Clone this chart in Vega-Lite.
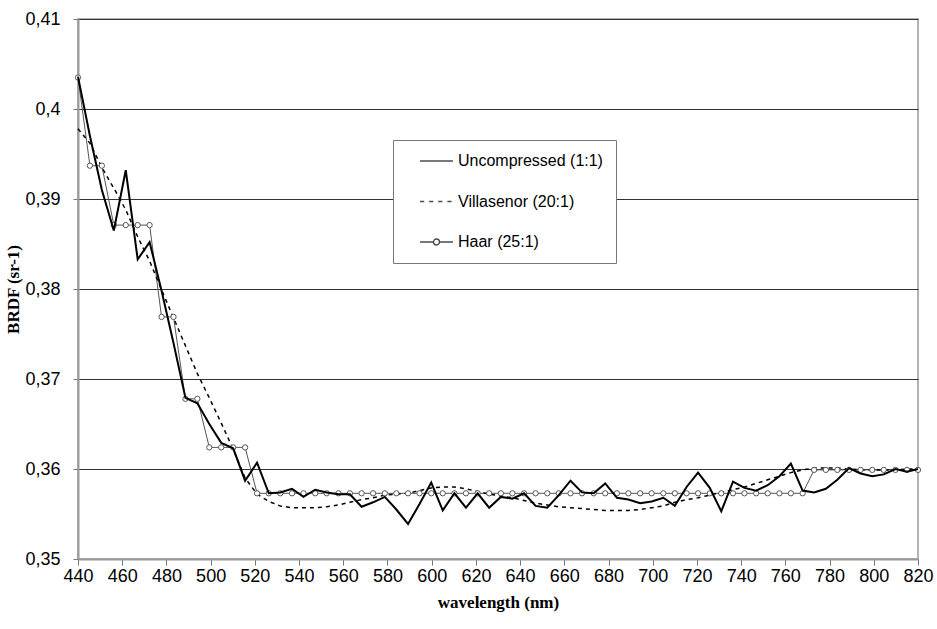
{
  "$schema": "https://vega.github.io/schema/vega-lite/v6.json",
  "autosize": "none",
  "width": 840,
  "height": 540,
  "padding": {"left": 78, "top": 19, "right": 19, "bottom": 70},
  "background": "white",
  "config": {
    "font": "Liberation Sans",
    "view": {"stroke": "#9a9a9a", "strokeWidth": 1.5},
    "axis": {"labelFont": "Liberation Sans", "labelFontSize": 18, "labelColor": "black", "titleFont": "Liberation Serif", "titleFontSize": 17, "titleFontWeight": "bold", "titleColor": "black"}
  },
  "datasets": {
    "spectra": [
      {"w":440,"s":"Uncompressed (1:1)","v":0.4036},{"w":445.4,"s":"Uncompressed (1:1)","v":0.397},{"w":450.8,"s":"Uncompressed (1:1)","v":0.391},{"w":456.2,"s":"Uncompressed (1:1)","v":0.3865},{"w":461.6,"s":"Uncompressed (1:1)","v":0.3932},{"w":467,"s":"Uncompressed (1:1)","v":0.3833},{"w":472.4,"s":"Uncompressed (1:1)","v":0.3852},{"w":477.8,"s":"Uncompressed (1:1)","v":0.3798},{"w":483.2,"s":"Uncompressed (1:1)","v":0.374},{"w":488.6,"s":"Uncompressed (1:1)","v":0.3679},{"w":494,"s":"Uncompressed (1:1)","v":0.3673},{"w":499.4,"s":"Uncompressed (1:1)","v":0.365},{"w":504.8,"s":"Uncompressed (1:1)","v":0.3629},{"w":510.2,"s":"Uncompressed (1:1)","v":0.3623},{"w":515.6,"s":"Uncompressed (1:1)","v":0.3587},{"w":521,"s":"Uncompressed (1:1)","v":0.3607},{"w":526.3,"s":"Uncompressed (1:1)","v":0.3573},{"w":531.5,"s":"Uncompressed (1:1)","v":0.3574},{"w":536.8,"s":"Uncompressed (1:1)","v":0.3578},{"w":542,"s":"Uncompressed (1:1)","v":0.3569},{"w":547.3,"s":"Uncompressed (1:1)","v":0.3577},{"w":552.5,"s":"Uncompressed (1:1)","v":0.3574},{"w":557.8,"s":"Uncompressed (1:1)","v":0.3572},{"w":563,"s":"Uncompressed (1:1)","v":0.3572},{"w":568.3,"s":"Uncompressed (1:1)","v":0.3558},{"w":573.5,"s":"Uncompressed (1:1)","v":0.3563},{"w":578.8,"s":"Uncompressed (1:1)","v":0.3569},{"w":584,"s":"Uncompressed (1:1)","v":0.3555},{"w":589.3,"s":"Uncompressed (1:1)","v":0.3539},{"w":594.5,"s":"Uncompressed (1:1)","v":0.3561},{"w":599.8,"s":"Uncompressed (1:1)","v":0.3585},{"w":605,"s":"Uncompressed (1:1)","v":0.3554},{"w":610.3,"s":"Uncompressed (1:1)","v":0.3573},{"w":615.5,"s":"Uncompressed (1:1)","v":0.3557},{"w":620.8,"s":"Uncompressed (1:1)","v":0.3573},{"w":626,"s":"Uncompressed (1:1)","v":0.3557},{"w":631.3,"s":"Uncompressed (1:1)","v":0.3569},{"w":636.5,"s":"Uncompressed (1:1)","v":0.3567},{"w":641.8,"s":"Uncompressed (1:1)","v":0.3573},{"w":647,"s":"Uncompressed (1:1)","v":0.3559},{"w":652.3,"s":"Uncompressed (1:1)","v":0.3557},{"w":657.5,"s":"Uncompressed (1:1)","v":0.3571},{"w":662.8,"s":"Uncompressed (1:1)","v":0.3587},{"w":668,"s":"Uncompressed (1:1)","v":0.3574},{"w":673.3,"s":"Uncompressed (1:1)","v":0.3573},{"w":678.5,"s":"Uncompressed (1:1)","v":0.3584},{"w":683.8,"s":"Uncompressed (1:1)","v":0.3568},{"w":689,"s":"Uncompressed (1:1)","v":0.3566},{"w":694.3,"s":"Uncompressed (1:1)","v":0.3562},{"w":699.5,"s":"Uncompressed (1:1)","v":0.3564},{"w":704.8,"s":"Uncompressed (1:1)","v":0.3568},{"w":710,"s":"Uncompressed (1:1)","v":0.3559},{"w":715.3,"s":"Uncompressed (1:1)","v":0.358},{"w":720.5,"s":"Uncompressed (1:1)","v":0.3596},{"w":725.8,"s":"Uncompressed (1:1)","v":0.3579},{"w":731,"s":"Uncompressed (1:1)","v":0.3553},{"w":736.3,"s":"Uncompressed (1:1)","v":0.3586},{"w":741.5,"s":"Uncompressed (1:1)","v":0.3579},{"w":746.8,"s":"Uncompressed (1:1)","v":0.3576},{"w":752,"s":"Uncompressed (1:1)","v":0.3582},{"w":757.3,"s":"Uncompressed (1:1)","v":0.3592},{"w":762.5,"s":"Uncompressed (1:1)","v":0.3606},{"w":767.8,"s":"Uncompressed (1:1)","v":0.3576},{"w":773,"s":"Uncompressed (1:1)","v":0.3574},{"w":778.3,"s":"Uncompressed (1:1)","v":0.3578},{"w":783.5,"s":"Uncompressed (1:1)","v":0.3588},{"w":788.8,"s":"Uncompressed (1:1)","v":0.3601},{"w":794,"s":"Uncompressed (1:1)","v":0.3595},{"w":799.3,"s":"Uncompressed (1:1)","v":0.3592},{"w":804.5,"s":"Uncompressed (1:1)","v":0.3594},{"w":809.8,"s":"Uncompressed (1:1)","v":0.36},{"w":815,"s":"Uncompressed (1:1)","v":0.3597},{"w":820,"s":"Uncompressed (1:1)","v":0.36},

      {"w":440,"s":"Villasenor (20:1)","v":0.3978},{"w":445.4,"s":"Villasenor (20:1)","v":0.3962},{"w":450.8,"s":"Villasenor (20:1)","v":0.3935},{"w":456.2,"s":"Villasenor (20:1)","v":0.3912},{"w":461.6,"s":"Villasenor (20:1)","v":0.3888},{"w":467,"s":"Villasenor (20:1)","v":0.3858},{"w":472.4,"s":"Villasenor (20:1)","v":0.3831},{"w":477.8,"s":"Villasenor (20:1)","v":0.3799},{"w":483.2,"s":"Villasenor (20:1)","v":0.3768},{"w":488.6,"s":"Villasenor (20:1)","v":0.3737},{"w":494,"s":"Villasenor (20:1)","v":0.3706},{"w":499.4,"s":"Villasenor (20:1)","v":0.3679},{"w":504.8,"s":"Villasenor (20:1)","v":0.3651},{"w":510.2,"s":"Villasenor (20:1)","v":0.3622},{"w":515.6,"s":"Villasenor (20:1)","v":0.359},{"w":521,"s":"Villasenor (20:1)","v":0.3572},{"w":526.3,"s":"Villasenor (20:1)","v":0.3564},{"w":531.5,"s":"Villasenor (20:1)","v":0.3559},{"w":536.8,"s":"Villasenor (20:1)","v":0.3557},{"w":542,"s":"Villasenor (20:1)","v":0.3557},{"w":547.3,"s":"Villasenor (20:1)","v":0.3557},{"w":552.5,"s":"Villasenor (20:1)","v":0.3558},{"w":557.8,"s":"Villasenor (20:1)","v":0.356},{"w":563,"s":"Villasenor (20:1)","v":0.3563},{"w":568.3,"s":"Villasenor (20:1)","v":0.3566},{"w":573.5,"s":"Villasenor (20:1)","v":0.3568},{"w":578.8,"s":"Villasenor (20:1)","v":0.3571},{"w":584,"s":"Villasenor (20:1)","v":0.3572},{"w":589.3,"s":"Villasenor (20:1)","v":0.3573},{"w":594.5,"s":"Villasenor (20:1)","v":0.3576},{"w":599.8,"s":"Villasenor (20:1)","v":0.3579},{"w":605,"s":"Villasenor (20:1)","v":0.358},{"w":610.3,"s":"Villasenor (20:1)","v":0.358},{"w":615.5,"s":"Villasenor (20:1)","v":0.3578},{"w":620.8,"s":"Villasenor (20:1)","v":0.3575},{"w":626,"s":"Villasenor (20:1)","v":0.3572},{"w":631.3,"s":"Villasenor (20:1)","v":0.357},{"w":636.5,"s":"Villasenor (20:1)","v":0.3568},{"w":641.8,"s":"Villasenor (20:1)","v":0.3565},{"w":647,"s":"Villasenor (20:1)","v":0.3562},{"w":652.3,"s":"Villasenor (20:1)","v":0.356},{"w":657.5,"s":"Villasenor (20:1)","v":0.3558},{"w":662.8,"s":"Villasenor (20:1)","v":0.3557},{"w":668,"s":"Villasenor (20:1)","v":0.3556},{"w":673.3,"s":"Villasenor (20:1)","v":0.3555},{"w":678.5,"s":"Villasenor (20:1)","v":0.3554},{"w":683.8,"s":"Villasenor (20:1)","v":0.3554},{"w":689,"s":"Villasenor (20:1)","v":0.3554},{"w":694.3,"s":"Villasenor (20:1)","v":0.3555},{"w":699.5,"s":"Villasenor (20:1)","v":0.3557},{"w":704.8,"s":"Villasenor (20:1)","v":0.3559},{"w":710,"s":"Villasenor (20:1)","v":0.3563},{"w":715.3,"s":"Villasenor (20:1)","v":0.3566},{"w":720.5,"s":"Villasenor (20:1)","v":0.3568},{"w":725.8,"s":"Villasenor (20:1)","v":0.3571},{"w":731,"s":"Villasenor (20:1)","v":0.3574},{"w":736.3,"s":"Villasenor (20:1)","v":0.3577},{"w":741.5,"s":"Villasenor (20:1)","v":0.358},{"w":746.8,"s":"Villasenor (20:1)","v":0.3584},{"w":752,"s":"Villasenor (20:1)","v":0.3588},{"w":757.3,"s":"Villasenor (20:1)","v":0.3592},{"w":762.5,"s":"Villasenor (20:1)","v":0.3596},{"w":767.8,"s":"Villasenor (20:1)","v":0.3599},{"w":773,"s":"Villasenor (20:1)","v":0.3601},{"w":778.3,"s":"Villasenor (20:1)","v":0.3601},{"w":783.5,"s":"Villasenor (20:1)","v":0.3601},{"w":788.8,"s":"Villasenor (20:1)","v":0.36},{"w":794,"s":"Villasenor (20:1)","v":0.3599},{"w":799.3,"s":"Villasenor (20:1)","v":0.3599},{"w":804.5,"s":"Villasenor (20:1)","v":0.3599},{"w":809.8,"s":"Villasenor (20:1)","v":0.3599},{"w":815,"s":"Villasenor (20:1)","v":0.36},{"w":820,"s":"Villasenor (20:1)","v":0.36},

      {"w":440,"s":"Haar (25:1)","v":0.4035},{"w":445.4,"s":"Haar (25:1)","v":0.3937},{"w":450.8,"s":"Haar (25:1)","v":0.3937},{"w":456.2,"s":"Haar (25:1)","v":0.3871},{"w":461.6,"s":"Haar (25:1)","v":0.3871},{"w":467,"s":"Haar (25:1)","v":0.3871},{"w":472.4,"s":"Haar (25:1)","v":0.3871},{"w":477.8,"s":"Haar (25:1)","v":0.3769},{"w":483.2,"s":"Haar (25:1)","v":0.3769},{"w":488.6,"s":"Haar (25:1)","v":0.3678},{"w":494,"s":"Haar (25:1)","v":0.3678},{"w":499.4,"s":"Haar (25:1)","v":0.3624},{"w":504.8,"s":"Haar (25:1)","v":0.3624},{"w":510.2,"s":"Haar (25:1)","v":0.3624},{"w":515.6,"s":"Haar (25:1)","v":0.3624},{"w":521,"s":"Haar (25:1)","v":0.3573},{"w":526.3,"s":"Haar (25:1)","v":0.3573},{"w":531.5,"s":"Haar (25:1)","v":0.3573},{"w":536.8,"s":"Haar (25:1)","v":0.3573},{"w":542,"s":"Haar (25:1)","v":0.3573},{"w":547.3,"s":"Haar (25:1)","v":0.3573},{"w":552.5,"s":"Haar (25:1)","v":0.3573},{"w":557.8,"s":"Haar (25:1)","v":0.3573},{"w":563,"s":"Haar (25:1)","v":0.3573},{"w":568.3,"s":"Haar (25:1)","v":0.3573},{"w":573.5,"s":"Haar (25:1)","v":0.3573},{"w":578.8,"s":"Haar (25:1)","v":0.3573},{"w":584,"s":"Haar (25:1)","v":0.3573},{"w":589.3,"s":"Haar (25:1)","v":0.3573},{"w":594.5,"s":"Haar (25:1)","v":0.3573},{"w":599.8,"s":"Haar (25:1)","v":0.3573},{"w":605,"s":"Haar (25:1)","v":0.3573},{"w":610.3,"s":"Haar (25:1)","v":0.3573},{"w":615.5,"s":"Haar (25:1)","v":0.3573},{"w":620.8,"s":"Haar (25:1)","v":0.3573},{"w":626,"s":"Haar (25:1)","v":0.3573},{"w":631.3,"s":"Haar (25:1)","v":0.3573},{"w":636.5,"s":"Haar (25:1)","v":0.3573},{"w":641.8,"s":"Haar (25:1)","v":0.3573},{"w":647,"s":"Haar (25:1)","v":0.3573},{"w":652.3,"s":"Haar (25:1)","v":0.3573},{"w":657.5,"s":"Haar (25:1)","v":0.3573},{"w":662.8,"s":"Haar (25:1)","v":0.3573},{"w":668,"s":"Haar (25:1)","v":0.3573},{"w":673.3,"s":"Haar (25:1)","v":0.3573},{"w":678.5,"s":"Haar (25:1)","v":0.3573},{"w":683.8,"s":"Haar (25:1)","v":0.3573},{"w":689,"s":"Haar (25:1)","v":0.3573},{"w":694.3,"s":"Haar (25:1)","v":0.3573},{"w":699.5,"s":"Haar (25:1)","v":0.3573},{"w":704.8,"s":"Haar (25:1)","v":0.3573},{"w":710,"s":"Haar (25:1)","v":0.3573},{"w":715.3,"s":"Haar (25:1)","v":0.3573},{"w":720.5,"s":"Haar (25:1)","v":0.3573},{"w":725.8,"s":"Haar (25:1)","v":0.3573},{"w":731,"s":"Haar (25:1)","v":0.3573},{"w":736.3,"s":"Haar (25:1)","v":0.3573},{"w":741.5,"s":"Haar (25:1)","v":0.3573},{"w":746.8,"s":"Haar (25:1)","v":0.3573},{"w":752,"s":"Haar (25:1)","v":0.3573},{"w":757.3,"s":"Haar (25:1)","v":0.3573},{"w":762.5,"s":"Haar (25:1)","v":0.3573},{"w":767.8,"s":"Haar (25:1)","v":0.3573},{"w":773,"s":"Haar (25:1)","v":0.3599},{"w":778.3,"s":"Haar (25:1)","v":0.3599},{"w":783.5,"s":"Haar (25:1)","v":0.3599},{"w":788.8,"s":"Haar (25:1)","v":0.3599},{"w":794,"s":"Haar (25:1)","v":0.3599},{"w":799.3,"s":"Haar (25:1)","v":0.3599},{"w":804.5,"s":"Haar (25:1)","v":0.3599},{"w":809.8,"s":"Haar (25:1)","v":0.3599},{"w":815,"s":"Haar (25:1)","v":0.3599},{"w":820,"s":"Haar (25:1)","v":0.3599}
    ]
  },
  "data": {"name": "spectra"},
  "encoding": {
    "x": {
      "field": "w", "type": "quantitative",
      "scale": {"domain": [440, 820], "nice": false, "zero": false},
      "axis": {"values": [440,460,480,500,520,540,560,580,600,620,640,660,680,700,720,740,760,780,800,820], "grid": false, "labelFlush": false, "labelOverlap": false, "domainColor": "#9a9a9a", "domainWidth": 2, "tickColor": "#777", "tickSize": 6, "labelPadding": 2, "title": "wavelength (nm)", "titlePadding": 9}
    },
    "y": {
      "field": "v", "type": "quantitative",
      "scale": {"domain": [0.35, 0.41], "nice": false, "zero": false},
      "axis": {"values": [0.35,0.36,0.37,0.38,0.39,0.4,0.41], "labelExpr": "replace(format(datum.value, '.2~f'), '.', ',')", "labelFlush": false, "grid": true, "gridColor": "#333", "gridWidth": 1, "domainColor": "#9a9a9a", "domainWidth": 2, "tickColor": "#777", "tickSize": 5, "labelPadding": 13, "title": "BRDF (sr-1)", "titlePadding": 2}
    }
  },
  "layer": [
    {
      "transform": [{"filter": "datum.s == 'Haar (25:1)'"}],
      "mark": {"type": "line", "stroke": "#555", "strokeWidth": 1},
      "encoding": {}
    },
    {
      "transform": [{"filter": "datum.s == 'Villasenor (20:1)'"}],
      "mark": {"type": "line", "stroke": "black", "strokeWidth": 1.5, "strokeDash": [4, 4]},
      "encoding": {}
    },
    {
      "transform": [{"filter": "datum.s == 'Haar (25:1)'"}],
      "mark": {"type": "point", "shape": "circle", "filled": true, "fill": "white", "stroke": "#555", "strokeWidth": 1, "size": 28, "opacity": 1},
      "encoding": {}
    },
    {
      "transform": [{"filter": "datum.s == 'Uncompressed (1:1)'"}],
      "mark": {"type": "line", "stroke": "black", "strokeWidth": 2},
      "encoding": {}
    },
    {
      "transform": [{"filter": "false"}],
      "mark": {"type": "point", "filled": false, "stroke": "black", "strokeWidth": 1.3},
      "encoding": {
        "shape": {
          "field": "s", "type": "nominal",
          "scale": {
            "domain": ["Uncompressed (1:1)", "Villasenor (20:1)", "Haar (25:1)"],
            "range": ["M0.86,0L5.57,0", "M0.86,0L1.46,0M2.16,0L2.76,0M3.46,0L4.06,0M4.76,0L5.36,0", "M0.86,0L2.78,0M3.64,0L5.57,0M2.78,0A0.43,0.43,0,1,1,3.64,0A0.43,0.43,0,1,1,2.78,0"]
          },
          "legend": {
            "title": null, "orient": "none", "legendX": 315, "legendY": 121,
            "padding": 13, "strokeColor": "#777", "fillColor": "white",
            "symbolSize": 196, "symbolStrokeColor": "black", "symbolStrokeWidth": 1.4, "symbolFillColor": "white",
            "labelFont": "Liberation Sans", "labelFontSize": 16, "labelColor": "black", "labelOffset": 36, "rowPadding": 24.5
          }
        }
      }
    }
  ]
}
